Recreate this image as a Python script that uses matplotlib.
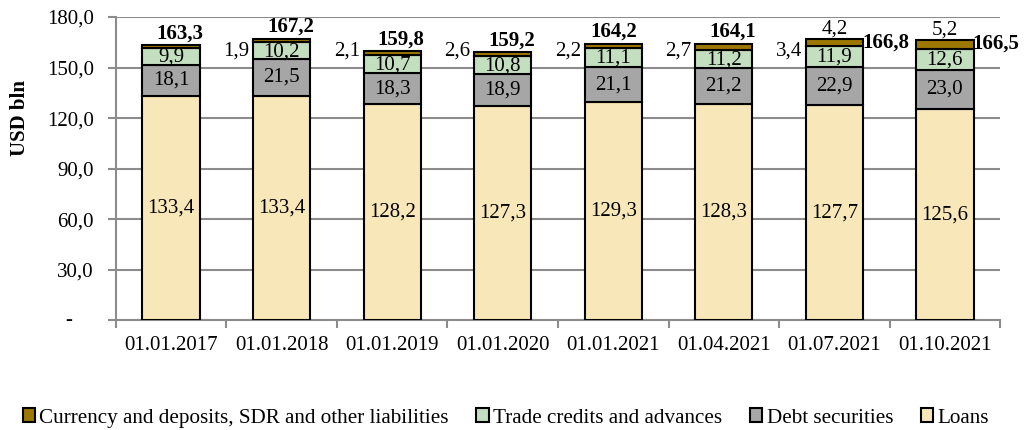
import numpy as np
import matplotlib
matplotlib.use("Agg")
import matplotlib.pyplot as plt

plt.rcParams["font.family"] = ["Liberation Serif", "DejaVu Serif"]

dates = ["01.01.2017", "01.01.2018", "01.01.2019", "01.01.2020",
         "01.01.2021", "01.04.2021", "01.07.2021", "01.10.2021"]
loans = [133.4, 133.4, 128.2, 127.3, 129.3, 128.3, 127.7, 125.6]
debt = [18.1, 21.5, 18.3, 18.9, 21.1, 21.2, 22.9, 23.0]
trade = [9.9, 10.2, 10.7, 10.8, 11.1, 11.2, 11.9, 12.6]
currency = [1.9, 2.1, 2.6, 2.2, 2.7, 3.4, 4.2, 5.2]
totals = [163.3, 167.2, 159.8, 159.2, 164.2, 164.1, 166.8, 166.5]

c_loans = "#F8E7B8"
c_debt = "#A6A6A6"
c_trade = "#C4DEC0"
c_cur = "#9C7800"


def fmt(v):
    return f"{v:.1f}".replace(".", ",")


fig = plt.figure(figsize=(10.28, 4.30), dpi=100)
ax = fig.add_axes([0.1128, 0.2547, 0.8600, 0.7058])

x = np.arange(len(dates))
w = 0.52
b1 = np.array(loans)
b2 = b1 + np.array(debt)
b3 = b2 + np.array(trade)

kw = dict(width=w, edgecolor="black", linewidth=1.5, zorder=3)
ax.bar(x, loans, color=c_loans, label="Loans", **kw)
ax.bar(x, debt, bottom=b1, color=c_debt, label="Debt securities", **kw)
ax.bar(x, trade, bottom=b2, color=c_trade, label="Trade credits and advances", **kw)
ax.bar(x, currency, bottom=b3, color=c_cur,
       label="Currency and deposits, SDR and other liabilities", **kw)

fs = 15
for i in range(len(dates)):
    ax.text(x[i], loans[i] / 2, fmt(loans[i]), ha="center", va="center", fontsize=fs, zorder=4)
    ax.text(x[i], b1[i] + debt[i] / 2, fmt(debt[i]), ha="center", va="center", fontsize=fs, zorder=4)
    ax.text(x[i], b2[i] + trade[i] / 2 - 0.5, fmt(trade[i]), ha="center", va="center", fontsize=fs, zorder=4)

# currency labels: first ones sit left of the next bar, last two above
for i in range(len(dates)):
    if i < 6:
        ax.text(x[i + 1] - w / 2 - 0.03, 160, fmt(currency[i]), ha="right", va="center", fontsize=fs)
    else:
        ax.text(x[i], totals[i] + 6, fmt(currency[i]), ha="center", va="center", fontsize=fs)

# totals
for i in range(len(dates)):
    if i < 6:
        dx = 0.0 if i == 4 else 0.08
        ax.text(x[i] + dx, totals[i] + 7, fmt(totals[i]), ha="center", va="center",
                fontsize=fs, fontweight="bold")
    else:
        ax.text(x[i] + w / 2 - 0.01, totals[i] - 2, fmt(totals[i]), ha="left", va="center",
                fontsize=fs, fontweight="bold")

ax.set_xlim(-0.5, len(dates) - 0.5)
ax.set_ylim(0, 180)
ax.set_yticks(np.arange(0, 181, 30))
ax.set_yticklabels([""] + [fmt(v) for v in np.arange(30, 181, 30)], fontsize=fs)
# zero label is a dash, set a bit left like in excel
ax.annotate("-", xy=(0, 0), xycoords=("axes fraction", "data"), xytext=(-47, 0),
            textcoords="offset pixels", ha="center", va="center", fontsize=fs)
ax.set_xticks(x)
ax.set_xticklabels(dates, fontsize=fs)
ax.set_xticks(np.arange(-0.5, len(dates)), minor=True)
ax.tick_params(axis="x", which="major", length=0, pad=11)
ax.tick_params(axis="x", which="minor", length=6, width=1.5, color="#8C8C8C")
ax.tick_params(axis="y", length=6, width=1.5, color="#8C8C8C", pad=10)
ax.grid(axis="y", color="#8C8C8C", linewidth=1.5, zorder=0)
for s in ["top", "right"]:
    ax.spines[s].set_visible(False)
for s in ["left", "bottom"]:
    ax.spines[s].set_color("#8C8C8C")
    ax.spines[s].set_linewidth(1.5)

fig.text(0.0195, 1 - 117.5 / 430, "USD bln", rotation=90, ha="center", va="center",
         fontsize=fs, fontweight="bold")

handles, labels = ax.get_legend_handles_labels()
fig.legend(handles[::-1], labels[::-1], loc="center", bbox_to_anchor=(0.492, 0.028),
           ncol=4, frameon=False, fontsize=15.2, handlelength=0.6, handleheight=0.6,
           handletextpad=0.2, columnspacing=1.3)

plt.savefig("out.png", dpi=100)
